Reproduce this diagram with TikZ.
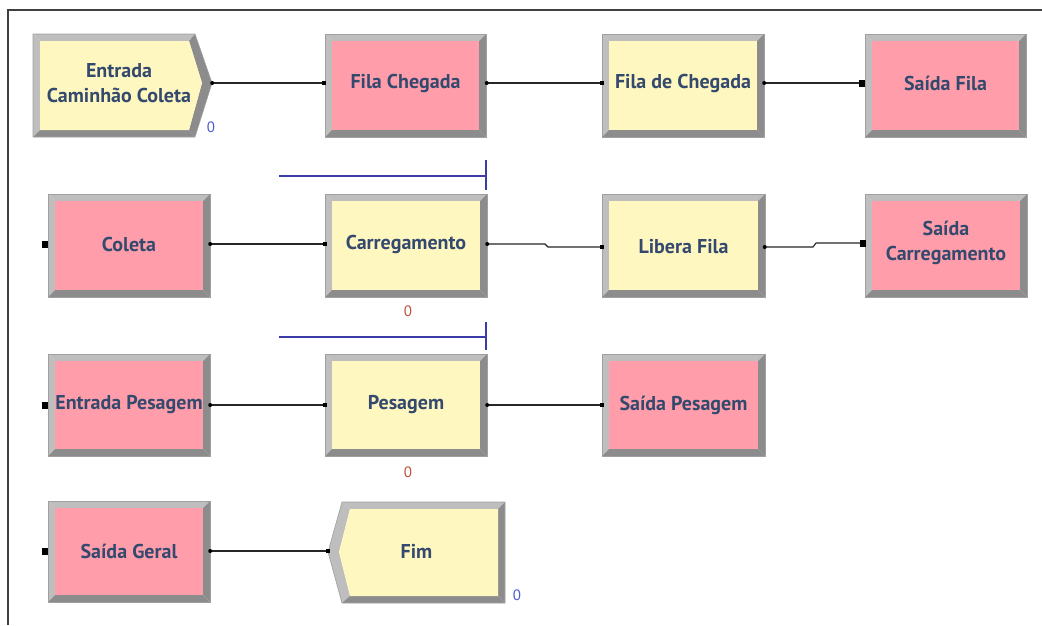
\documentclass[tikz,border=0pt]{standalone}
\usepackage{fontspec}
\setmainfont{PT Sans}
\definecolor{yel}{HTML}{FFF7C0}
\definecolor{pnk}{HTML}{FF9EAA}
\definecolor{bevL}{HTML}{BEBEBE}
\definecolor{bevD}{HTML}{8C8C8C}
\definecolor{edgec}{HTML}{A0A0A0}
\definecolor{txt}{HTML}{34496E}
\definecolor{zblue}{HTML}{4A5CD0}
\definecolor{zred}{HTML}{C0503C}
\definecolor{rline}{HTML}{3C3CA8}
\definecolor{frame}{HTML}{404040}
\newcommand\bevrect[5]{%
 \fill[bevL] (#1,#2) -- (#3,#2) -- (#3-7,#2+7) -- (#1+7,#2+7) -- cycle;
 \fill[bevL] (#1,#2) -- (#1+7,#2+7) -- (#1+7,#4-7) -- (#1,#4) -- cycle;
 \fill[bevD] (#3,#2) -- (#3,#4) -- (#3-7,#4-7) -- (#3-7,#2+7) -- cycle;
 \fill[bevD] (#1,#4) -- (#3,#4) -- (#3-7,#4-7) -- (#1+7,#4-7) -- cycle;
 \fill[#5] (#1+7,#2+7) rectangle (#3-7,#4-7);
 \draw[edgec, line width=0.6] (#1,#2) rectangle (#3,#4);
}
\tikzset{
  lbl/.style={inner sep=0, text=txt, font=\fontsize{20}{25}\selectfont\bfseries, align=center, minimum width=162, minimum height=100},
  conn/.style={draw=black!85, line width=1.1},
  outdot/.style={circle, fill=black, inner sep=0, minimum size=4},
  insq/.style={rectangle, fill=black, inner sep=0, minimum size=4},
  bigsq/.style={rectangle, fill=black, inner sep=0, minimum width=6, minimum height=7},
  zero/.style={inner sep=0, font=\fontsize{15}{15}\selectfont},
  ruler/.style={draw=rline, line width=1.2}
}
\begin{document}
\begin{tikzpicture}[x=1pt, y=-1pt]
\useasboundingbox (0,0) rectangle (1042,625);
\fill[white] (0,0) rectangle (1042,625);
\draw[frame, line width=1.5] (8,625) -- (8,10) -- (1042,10);

% ---- Row 1 ----
\fill[bevL] (33,34) -- (195,34) -- (189,41) -- (40,41) -- cycle;
\fill[bevL] (33,34) -- (40,41) -- (40,130) -- (33,137) -- cycle;
\fill[bevD] (195,34) -- (212,83) -- (202,83) -- (189,41) -- cycle;
\fill[bevD] (212,83) -- (195,137) -- (189,130) -- (202,83) -- cycle;
\fill[bevD] (33,137) -- (195,137) -- (189,130) -- (40,130) -- cycle;
\fill[yel] (40,41) -- (189,41) -- (202,83) -- (189,130) -- (40,130) -- cycle;
\draw[edgec, line width=0.6] (33,34) -- (195,34) -- (212,83) -- (195,137) -- (33,137) -- cycle;
\node[lbl, minimum width=172] (entrada) at (119,83) {Entrada\\Caminhão Coleta};
\node[zero, text=zblue] (z1) at (211,127) {0};

\bevrect{325}{34}{486}{137}{pnk}
\node[lbl] (filachegada) at (405.5,83) {Fila Chegada};
\bevrect{602}{34}{764}{137}{yel}
\node[lbl] (filadechegada) at (683,83) {Fila de Chegada};
\bevrect{865}{34}{1026}{137}{pnk}
\node[lbl] (saidafila) at (945.5,83) {Saída Fila};

% ---- Row 2 ----
\draw[ruler] (279,176) -- (486,176);
\draw[ruler] (486,160) -- (486,190);
\bevrect{48}{194}{210}{297}{pnk}
\node[lbl] (coleta) at (129,244) {Coleta};
\bevrect{325}{194}{487}{297}{yel}
\node[lbl] (carregamento) at (406,244) {Carregamento};
\node[zero, text=zred] (z2) at (408,311) {0};
\bevrect{602}{194}{765}{297}{yel}
\node[lbl] (liberafila) at (683.5,247) {Libera Fila};
\bevrect{865}{194}{1027}{297}{pnk}
\node[lbl] (saidacarr) at (946,243) {Saída\\Carregamento};

% ---- Row 3 ----
\draw[ruler] (279,337) -- (486,337);
\draw[ruler] (486,322) -- (486,350);
\bevrect{48}{354}{210}{456}{pnk}
\node[lbl] (entradapesagem) at (129,405) {Entrada Pesagem};
\bevrect{325}{354}{487}{456}{yel}
\node[lbl] (pesagem) at (406,405) {Pesagem};
\node[zero, text=zred] (z3) at (408,472) {0};
\bevrect{602}{354}{765}{456}{pnk}
\node[lbl] (saidapesagem) at (683.5,405) {Saída Pesagem};

% ---- Row 4 ----
\bevrect{48}{501}{210}{602}{pnk}
\node[lbl] (saidageral) at (129,551) {Saída Geral};
\fill[bevL] (342,502) -- (505,502) -- (498,509) -- (350,509) -- cycle;
\fill[bevL] (342,502) -- (350,509) -- (339,552) -- (328,552) -- cycle;
\fill[bevL] (328,552) -- (339,552) -- (350,596) -- (342,603) -- cycle;
\fill[bevD] (505,502) -- (505,603) -- (498,596) -- (498,509) -- cycle;
\fill[bevD] (342,603) -- (505,603) -- (498,596) -- (350,596) -- cycle;
\fill[yel] (350,509) -- (498,509) -- (498,596) -- (350,596) -- (339,552) -- cycle;
\draw[edgec, line width=0.6] (342,502) -- (505,502) -- (505,603) -- (342,603) -- (328,552) -- cycle;
\node[lbl, minimum width=177] (fim) at (416.5,551) {Fim};
\node[zero, text=zblue] (z4) at (517,595) {0};

% ---- connectors ----
\draw[conn] ([xshift=7]entrada.east) -- (filachegada.west);
\draw[conn] (filachegada.east) -- (filadechegada.west);
\draw[conn] (filadechegada.east) -- (saidafila.west);
\draw[conn] (coleta.east) -- (carregamento.west);
\draw[conn] (carregamento.east) -- (545,244) -- (548,247) -- (liberafila.west);
\draw[conn] (liberafila.east) -- (813,247) -- (816,243) -- (saidacarr.west);
\draw[conn] (entradapesagem.east) -- (pesagem.west);
\draw[conn] (pesagem.east) -- (saidapesagem.west);
\draw[conn] (saidageral.east) -- (fim.west);

% ---- port marks ----
\node[outdot] at ([xshift=7]entrada.east) {};
\node[insq] at (filachegada.west) {};
\node[outdot] at (filachegada.east) {};
\node[insq] at (filadechegada.west) {};
\node[outdot] at (filadechegada.east) {};
\node[bigsq] at ([xshift=-2]saidafila.west) {};
\node[bigsq] at ([xshift=-3]coleta.west) {};
\node[outdot] at (coleta.east) {};
\node[insq] at (carregamento.west) {};
\node[outdot] at (carregamento.east) {};
\node[insq] at (liberafila.west) {};
\node[outdot] at (liberafila.east) {};
\node[bigsq] at ([xshift=-2]saidacarr.west) {};
\node[bigsq] at ([xshift=-3]entradapesagem.west) {};
\node[outdot] at (entradapesagem.east) {};
\node[insq] at (pesagem.west) {};
\node[outdot] at (pesagem.east) {};
\node[insq] at (saidapesagem.west) {};
\node[bigsq] at ([xshift=-3]saidageral.west) {};
\node[outdot] at (saidageral.east) {};
\node[insq] at (fim.west) {};
\end{tikzpicture}
\end{document}
